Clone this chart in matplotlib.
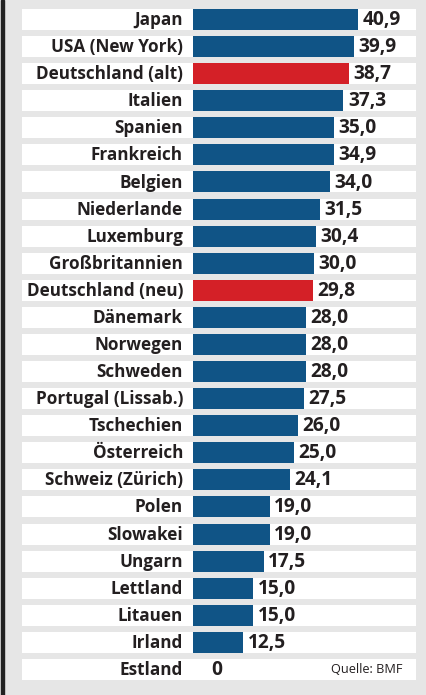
import matplotlib
matplotlib.use("Agg")
import matplotlib.pyplot as plt
from matplotlib.patches import Rectangle

countries = ["Japan", "USA (New York)", "Deutschland (alt)", "Italien", "Spanien",
             "Frankreich", "Belgien", "Niederlande", "Luxemburg", "Großbritannien",
             "Deutschland (neu)", "Dänemark", "Norwegen", "Schweden", "Portugal (Lissab.)",
             "Tschechien", "Österreich", "Schweiz (Zürich)", "Polen", "Slowakei",
             "Ungarn", "Lettland", "Litauen", "Irland", "Estland"]
values = [40.9, 39.9, 38.7, 37.3, 35.0, 34.9, 34.0, 31.5, 30.4, 30.0,
          29.8, 28.0, 28.0, 28.0, 27.5, 26.0, 25.0, 24.1, 19.0, 19.0,
          17.5, 15.0, 15.0, 12.5, 0.0]
highlight = ["Deutschland (alt)", "Deutschland (neu)"]
source = "Quelle: BMF"

W, H = 427, 695
fig = plt.figure(figsize=(W / 100, H / 100), dpi=100)
fig.patch.set_facecolor("#e6e6e6")
ax = fig.add_axes([0, 0, 1, 1])
ax.set_facecolor("#e6e6e6")

s = 4.03          # px per unit
x0 = 193          # px of zero
pitch = 27.08
top_c = 19.5
ax.set_xlim(-x0 / s, (W - x0) / s)
ax.set_ylim((H - top_c) / pitch, -top_c / pitch)
ax.axis("off")

n = len(countries)
ys = list(range(n))
bh = 21 / pitch
# white row bands
ax.barh(ys, [(416 - 22) / s] * n, left=(22 - x0) / s, height=bh, color="white", zorder=1)
colors = ["#d42027" if c in highlight else "#105486" for c in countries]
ax.barh(ys, values, height=bh, color=colors, zorder=2)

tc = "#231f20"
for y, c, v in zip(ys, countries, values):
    ax.text(-10 / s, y + 0.02, c, ha="right", va="center", fontsize=12.3, fontweight="bold",
            family="Open Sans", color=tc, zorder=3)
    if v > 0:
        lab = f"{v:.1f}".replace(".", ",")
        xv = v + 4.5 / s
    else:
        lab = "0"
        xv = 18 / s
    ax.text(xv, y + 0.02, lab, ha="left", va="center", fontsize=13.8, fontweight="bold",
            family="Open Sans", color=tc, zorder=3)

ax.text((403 - x0) / s, n - 1, source, ha="right", va="center", fontsize=9.2,
        family="Open Sans", color=tc, zorder=3)

fig.patches.append(Rectangle((1 / W, 0), 3 / W, 1, transform=fig.transFigure,
                             color="#222222", zorder=5))
fig.savefig("out.png", dpi=100, facecolor=fig.get_facecolor())
